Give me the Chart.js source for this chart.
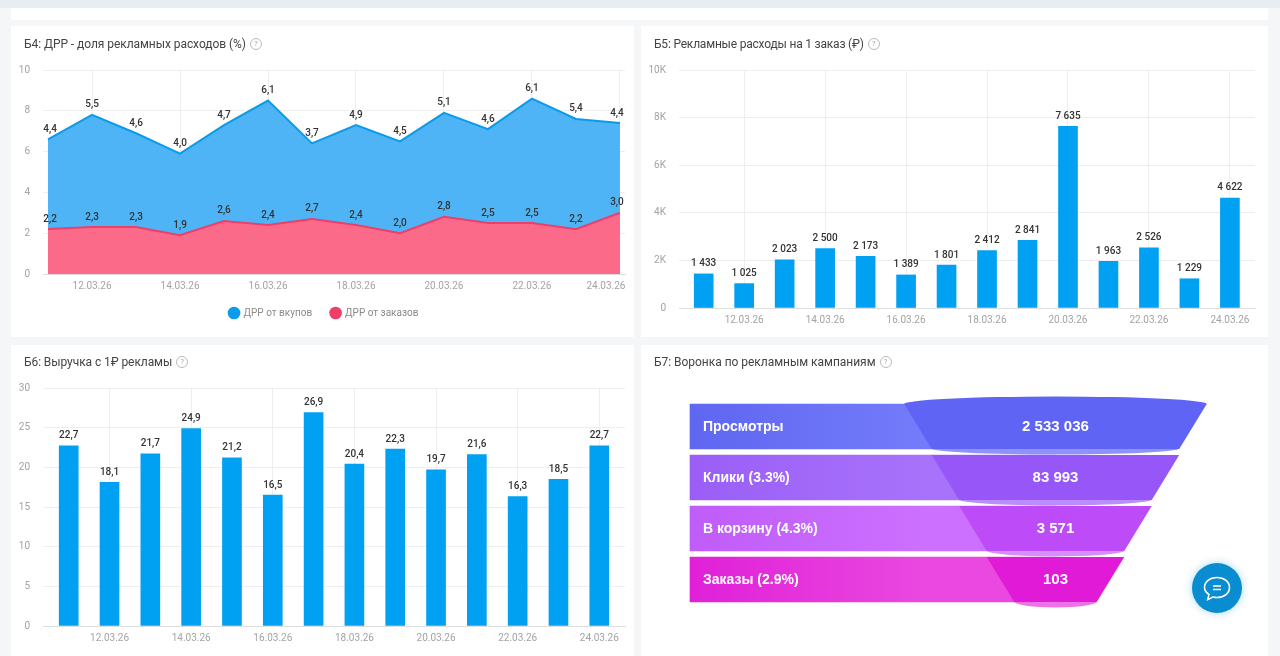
<!DOCTYPE html>
<html lang="ru"><head><meta charset="utf-8">
<script src="https://cdn.jsdelivr.net/npm/chart.js@4"></script>
<style>
html,body{margin:0;padding:0;width:1280px;height:656px;overflow:hidden;background:#f4f6f8;font-family:Roboto,sans-serif}
#page{position:absolute;left:0;top:0;width:1280px;height:656px;filter:blur(.35px)}
.abs{position:absolute}
.panel{position:absolute;background:#fff}
.title{position:absolute;font:400 12px Roboto,sans-serif;color:#444;white-space:nowrap;line-height:14px;display:flex;align-items:center}
.q{display:inline-block;box-sizing:border-box;width:12px;height:12px;border:1px solid #bbb;border-radius:50%;margin-left:4px;color:#aaa;font:400 8px/10px Roboto,sans-serif;text-align:center;letter-spacing:0}
canvas{position:absolute;display:block}
#chat{position:absolute;left:1192px;top:563px;width:50px;height:50px;border-radius:50%;background:#0a8cd0;box-shadow:0 0 8px rgba(60,170,230,.45)}
</style></head><body><div id="page">
<div class="abs" style="left:0;top:0;width:1280px;height:8px;background:#e8edf1"></div>
<div class="panel" style="left:11px;top:8px;width:1257px;height:12px"></div>
<div class="panel" style="left:11px;top:26px;width:623px;height:311px"></div>
<div class="panel" style="left:641px;top:26px;width:627px;height:311px"></div>
<div class="panel" style="left:11px;top:345px;width:623px;height:311px"></div>
<div class="panel" style="left:641px;top:345px;width:627px;height:311px"></div>
<div class="title" style="left:24px;top:37px;letter-spacing:-.06px">Б4: ДРР - доля рекламных расходов (%)<span class="q">?</span></div>
<div class="title" style="left:654px;top:37px;letter-spacing:-.2px">Б5: Рекламные расходы на 1 заказ (₽)<span class="q">?</span></div>
<div class="title" style="left:24px;top:355px;letter-spacing:-.08px">Б6: Выручка с 1₽ рекламы<span class="q">?</span></div>
<div class="title" style="left:654px;top:355px;letter-spacing:-.03px">Б7: Воронка по рекламным кампаниям<span class="q">?</span></div>
<canvas id="c1" style="left:11px;top:26px" width="623" height="311"></canvas>
<canvas id="c2" style="left:641px;top:26px" width="627" height="311"></canvas>
<canvas id="c3" style="left:11px;top:345px" width="623" height="311"></canvas>
<canvas id="c4" style="left:641px;top:345px" width="627" height="311"></canvas>
<div id="chat"><svg width="50" height="50" viewBox="0 0 50 50" fill="none" stroke="#fff" stroke-width="1.6"><path d="M25 14.5c7.4 0 12.5 4.4 12.5 10s-5.1 10-12.5 10c-1.5 0-2.900-.2-4.200-.5l-5 2.600 1.100-5.200c-2.700-1.800-4.400-4-4.400-6.900 0-5.600 5.100-10 12.500-10z"/><path d="M21 23h8M21 26.500h8"/></svg></div>
</div>
<script>
const dates = ['11.03.26','12.03.26','13.03.26','14.03.26','15.03.26','16.03.26','17.03.26','18.03.26','19.03.26','20.03.26','21.03.26','22.03.26','23.03.26','24.03.26'];
const drrPurchases = [4.4,5.5,4.6,4.0,4.7,6.1,3.7,4.9,4.5,5.1,4.6,6.1,5.4,4.4];
const drrOrders = [2.2,2.3,2.3,1.9,2.6,2.4,2.7,2.4,2.0,2.8,2.5,2.5,2.2,3.0];
const costPerOrder = [1433,1025,2023,2500,2173,1389,1801,2412,2841,7635,1963,2526,1229,4622];
const revenuePerRuble = [22.7,18.1,21.7,24.9,21.2,16.5,26.9,20.4,22.3,19.7,21.6,16.3,18.5,22.7];
const funnelLabels = ['Просмотры','Клики (3.3%)','В корзину (4.3%)','Заказы (2.9%)'];
const funnelValues = [2533036,83993,3571,103];

const GRID='#eeeeee', AXIS='#dddddd', TICK='#a3a3a3', LABEL='#333333';
const tickFont={family:'Roboto',size:10};
const pts=a=>a.map((y,x)=>({x,y}));
const comma=v=>v.toFixed(1).replace('.',',');
const spaced=v=>String(v).replace(/\B(?=(\d{3})+$)/g,' ');

const valueLabels={id:'valueLabels',afterDatasetsDraw(chart,_,o){
  const c=chart.ctx;c.save();c.font='500 10px Roboto';c.fillStyle=LABEL;c.textAlign='center';c.textBaseline='middle';
  chart.data.datasets.forEach((ds,i)=>{
    chart.getDatasetMeta(i).data.forEach((el,k)=>{
      let x=el.x;
      if(o.inset){ if(k===0)x+=2; if(k===ds.data.length-1)x-=3; }
      c.fillText(o.format(ds.data[k].y),x,el.y-10);
    });
  });c.restore();}};

const shiftLast={id:'shiftLast',beforeDraw(chart,_,o){
  chart.scales.y.left=0;
  if(!o.dx)return;
  const items=chart.scales.x.getLabelItems(chart.chartArea);
  const it=items[items.length-1];
  if(it&&!it.shifted){it.options.translation[0]+=o.dx;it.shifted=true;}
}};

function axes(xmin,xmax,ymax,step,yw,xh,yfmt,stacked){
  return {
    x:{type:'linear',min:xmin,max:xmax,offset:false,
      afterBuildTicks:s=>{s.ticks=dates.map((_,i)=>i).filter(i=>i%2===1).map(value=>({value}));},
      afterFit:s=>{s.height=xh;s.paddingLeft=0;s.paddingRight=0;},
      grid:{color:GRID,lineWidth:1,drawTicks:false,offset:false},
      border:{color:AXIS,display:true},
      ticks:{autoSkip:false,maxRotation:0,padding:6,color:TICK,font:tickFont,callback:v=>dates[v]}},
    y:{min:0,max:ymax,stacked:!!stacked,
      afterFit:s=>{s.width=yw;},
      grid:{color:GRID,drawTicks:false},
      border:{display:false},
      ticks:{stepSize:step,padding:13,color:TICK,font:tickFont,callback:yfmt}}
  };
}
const base={responsive:false,animation:false,events:[]};

new Chart(document.getElementById('c1'),{type:'line',
  data:{datasets:[
    {label:'ДРР от заказов',data:pts(drrOrders),borderColor:'#ee3f69',backgroundColor:'#fb6a88',borderWidth:2,fill:'origin',tension:0,pointRadius:0},
    {label:'ДРР от вкупов',data:pts(drrPurchases),borderColor:'#0a9bea',backgroundColor:'#4fb4f6',borderWidth:2,fill:'-1',tension:0,pointRadius:0}
  ]},
  options:{...base,
    layout:{padding:{left:12,right:9,top:44,bottom:9}},
    scales:axes(-0.114,13.114,10,2,20,15,v=>v,true),
    plugins:{tooltip:{enabled:false},
      valueLabels:{format:comma,inset:true},shiftLast:{dx:-14},
      legend:{position:'bottom',labels:{usePointStyle:true,pointStyle:'circle',boxWidth:9,boxHeight:9,padding:19,color:'#8a8a8a',font:tickFont,
        sort:(a,b)=>b.datasetIndex-a.datasetIndex,
        generateLabels:ch=>Chart.defaults.plugins.legend.labels.generateLabels(ch).map(l=>({...l,fillStyle:l.strokeStyle,lineWidth:0}))}}}},
  plugins:[valueLabels,shiftLast]});

function barChart(id,values,xmin,xmax,ymax,step,yw,xh,pad,yfmt,fmt){
  new Chart(document.getElementById(id),{type:'bar',
    data:{datasets:[{data:pts(values),backgroundColor:'#00a0f2',barThickness:19}]},
    options:{...base,layout:{padding:pad},scales:axes(xmin,xmax,ymax,step,yw,xh,yfmt),
      plugins:{legend:{display:false},tooltip:{enabled:false},valueLabels:{format:fmt}}},
    plugins:[valueLabels]});
}
barChart('c2',costPerOrder,-0.61,13.62,10000,2000,38,29,{left:0,right:13,top:44,bottom:0},v=>v===0?'0':(v/1000)+'K',spaced);
barChart('c3',revenuePerRuble,-0.63,13.63,30,5,32,30,{left:0,right:9,top:43,bottom:0},v=>v,comma);

const funnelColors=[
  {rect:['#5f66f0','#747cfb'],trap:'#5f64f4',cap:'#8e92fa'},
  {rect:['#9a5ef6','#a872fb'],trap:'#9656f8',cap:'#b98efc'},
  {rect:['#c05cf8','#cc70ff'],trap:'#bd4bf8',cap:'#d68efc'},
  {rect:['#e020d8','#ea48e0'],trap:'#e01ad6',cap:'#ee72e6'}];
const funnelDraw={id:'funnelDraw',afterDatasetsDraw(chart){
  const c=chart.ctx,xs=chart.scales.x,els=chart.getDatasetMeta(0).data;
  const cx=xs.getPixelForValue(0);
  els.forEach((el,i)=>{
    const h=el.height,top=el.y-h/2,bot=el.y+h/2;
    const wt=(xs.getPixelForValue((5.5-i)/2)-cx),wb=(xs.getPixelForValue((4.5-i)/2)-cx);
    const col=funnelColors[i];
    c.fillStyle=col.cap;c.beginPath();
    c.ellipse(cx,bot-0.5,wb,6,0,0,Math.PI);c.closePath();c.fill();
    c.fillStyle=col.trap;c.beginPath();
    if(i===0)c.ellipse(cx,top,wt,7.5,0,Math.PI,2*Math.PI);else{c.moveTo(cx-wt,top);c.lineTo(cx+wt,top);}
    c.lineTo(cx+wb,bot);c.lineTo(cx-wb,bot);c.closePath();c.fill();
    c.fillStyle='#fff';c.textBaseline='middle';
    c.textAlign='left';c.font='700 14px "Liberation Sans"';
    c.fillText(funnelLabels[i],xs.getPixelForValue(xs.options.min)+62,el.y+0.5);
    c.textAlign='center';c.font='700 15px "Liberation Sans"';
    c.fillText(spaced(funnelValues[i]),cx,el.y+0.5);
  });
}};
new Chart(document.getElementById('c4'),{type:'bar',
  data:{labels:funnelLabels,datasets:[{
    data:funnelValues.map(()=>[-6.645,0]),barThickness:45,
    backgroundColor(ctx){
      const area=ctx.chart.chartArea;if(!area)return '#888';
      const xs=ctx.chart.scales.x;
      const g=ctx.chart.ctx.createLinearGradient(xs.getPixelForValue(-6.645),0,xs.getPixelForValue(-2.4),0);
      const col=funnelColors[ctx.dataIndex];g.addColorStop(0,col.rect[0]);g.addColorStop(1,col.rect[1]);return g;
    }}]},
  options:{...base,indexAxis:'y',layout:{padding:{left:0,right:0,top:56,bottom:51}},
    scales:{x:{type:'linear',display:false,min:-7.536,max:3.864},y:{display:false}},
    plugins:{legend:{display:false},tooltip:{enabled:false}}},
  plugins:[funnelDraw]});
</script></body></html>
